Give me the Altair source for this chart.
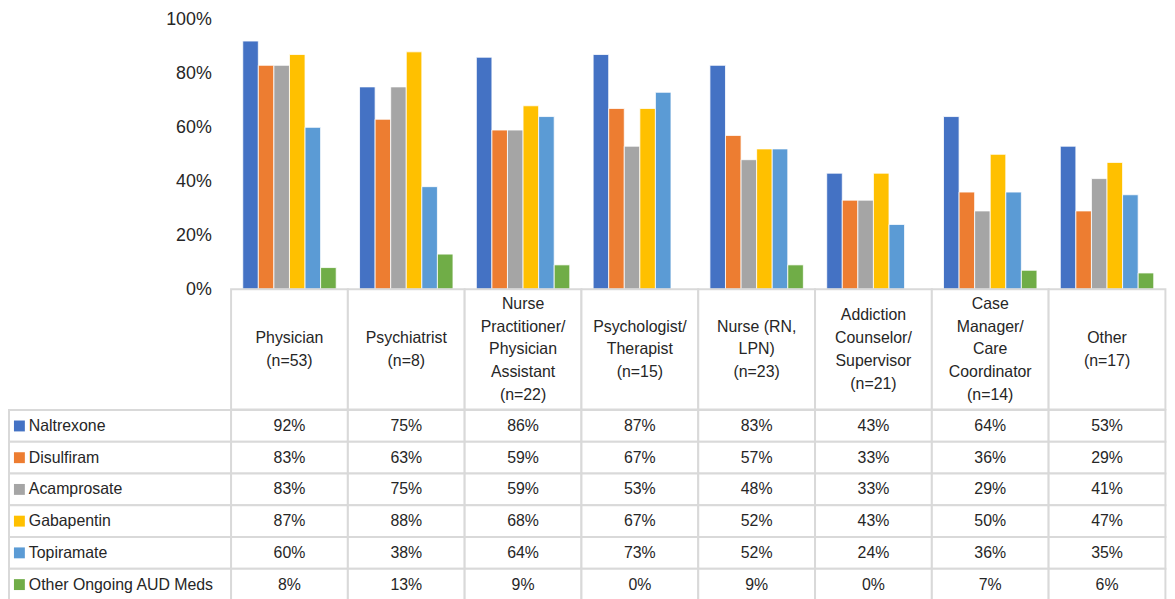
import altair as alt
import pandas as pd

categories = [
    "Physician\n(n=53)",
    "Psychiatrist\n(n=8)",
    "Nurse\nPractitioner/\nPhysician\nAssistant\n(n=22)",
    "Psychologist/\nTherapist\n(n=15)",
    "Nurse (RN,\nLPN)\n(n=23)",
    "Addiction\nCounselor/\nSupervisor\n(n=21)",
    "Case\nManager/\nCare\nCoordinator\n(n=14)",
    "Other\n(n=17)",
]
series = ["Naltrexone", "Disulfiram", "Acamprosate", "Gabapentin", "Topiramate", "Other Ongoing AUD Meds"]
colors = ["#4472C4", "#ED7D31", "#A5A5A5", "#FFC000", "#5B9BD5", "#70AD47"]

naltrexone = [92, 75, 86, 87, 83, 43, 64, 53]
disulfiram = [83, 63, 59, 67, 57, 33, 36, 29]
acamprosate = [83, 75, 59, 53, 48, 33, 29, 41]
gabapentin = [87, 88, 68, 67, 52, 43, 50, 47]
topiramate = [60, 38, 64, 73, 52, 24, 36, 35]
other_meds = [8, 13, 9, 0, 9, 0, 7, 6]
y_ticks = [0, 0.2, 0.4, 0.6, 0.8, 1.0]

values = [naltrexone, disulfiram, acamprosate, gabapentin, topiramate, other_meds]
rows = []
for s, vals in zip(series, values):
    for c, v in zip(categories, vals):
        rows.append({"category": c, "series": s, "value": v / 100})
df = pd.DataFrame(rows)
cat_df = pd.DataFrame({"category": categories})
ser_df = pd.DataFrame({"series": series})

# header label lines, each positioned by its line index centred on the block
line_rows = []
for c in categories:
    parts = c.split("\n")
    n = len(parts)
    for i, p in enumerate(parts):
        line_rows.append({"category": c, "line": p, "pos": i - (n - 1) / 2})
line_df = pd.DataFrame(line_rows)

FONT = "Liberation Sans"
TXT = "#262626"
GRID = "#D9D9D9"
COLW = 117.8
W = COLW * 8
LEFTW = 224
BAR_H = 272
HDR_H = 121.5
ROW_H = 32
LINE_H = 23

color_enc = alt.Color("series:N", sort=series, scale=alt.Scale(domain=series, range=colors), legend=None)
x_cells = alt.X("category:N", sort=categories, axis=None, scale=alt.Scale(paddingInner=0, paddingOuter=0))
y_rows = alt.Y("series:N", sort=series, axis=None, scale=alt.Scale(paddingInner=0, paddingOuter=0))

spacer1 = alt.Chart(pd.DataFrame({"a": [0]})).mark_point(opacity=0).properties(width=LEFTW, height=BAR_H)
spacer2 = alt.Chart(pd.DataFrame({"a": [0]})).mark_point(opacity=0).properties(width=LEFTW, height=HDR_H)

bars = alt.Chart(df).mark_bar(stroke="white", strokeWidth=0.8).encode(
    x=alt.X("category:N", sort=categories, axis=None,
            scale=alt.Scale(paddingInner=0.2, paddingOuter=0.1)),
    xOffset=alt.XOffset("series:N", sort=series, scale=alt.Scale(paddingInner=0, paddingOuter=0)),
    y=alt.Y("value:Q", scale=alt.Scale(domain=[0, 1], nice=False),
            axis=alt.Axis(format=".0%", values=y_ticks, labelFontSize=18, labelFont=FONT,
                          labelColor=TXT, domain=False, ticks=False, grid=False,
                          labelPadding=20, title=None)),
    color=color_enc,
).properties(width=W, height=BAR_H)

half = HDR_H / 2 / LINE_H
header = alt.layer(
    alt.Chart(cat_df).mark_rect(fill="white", stroke=GRID, strokeWidth=2).encode(x=x_cells),
    alt.Chart(line_df).mark_text(fontSize=16, font=FONT, color=TXT, baseline="middle").encode(
        x=x_cells,
        y=alt.Y("pos:Q", axis=None, scale=alt.Scale(domain=[half, -half], nice=False, zero=False)),
        text="line:N"),
).properties(width=W, height=HDR_H)

rowhdr = alt.layer(
    alt.Chart(ser_df).mark_rect(fill="white", stroke=GRID, strokeWidth=2).encode(y=y_rows),
    alt.Chart(ser_df).mark_square(size=121, opacity=1).encode(
        y=y_rows, x=alt.value(10.5), color=color_enc),
    alt.Chart(ser_df).mark_text(align="left", fontSize=16, font=FONT, color=TXT, baseline="middle").encode(
        y=y_rows, x=alt.value(20), text="series:N"),
).properties(width=LEFTW, height=ROW_H * 6)

cells = alt.layer(
    alt.Chart(df).mark_rect(fill="white", stroke=GRID, strokeWidth=2).encode(x=x_cells, y=y_rows),
    alt.Chart(df).mark_text(fontSize=16, font=FONT, color=TXT, baseline="middle").encode(
        x=x_cells, y=y_rows, text=alt.Text("value:Q", format=".0%")),
).properties(width=W, height=ROW_H * 6)

chart = alt.concat(
    spacer1, bars, spacer2, header, rowhdr, cells,
    columns=2, spacing=0, bounds="flush",
).resolve_scale(
    x="independent", y="independent", color="independent", xOffset="independent"
).properties(padding=0).configure_view(stroke=None)

chart.save("out.html", embed_options={"renderer": "svg", "actions": False})
